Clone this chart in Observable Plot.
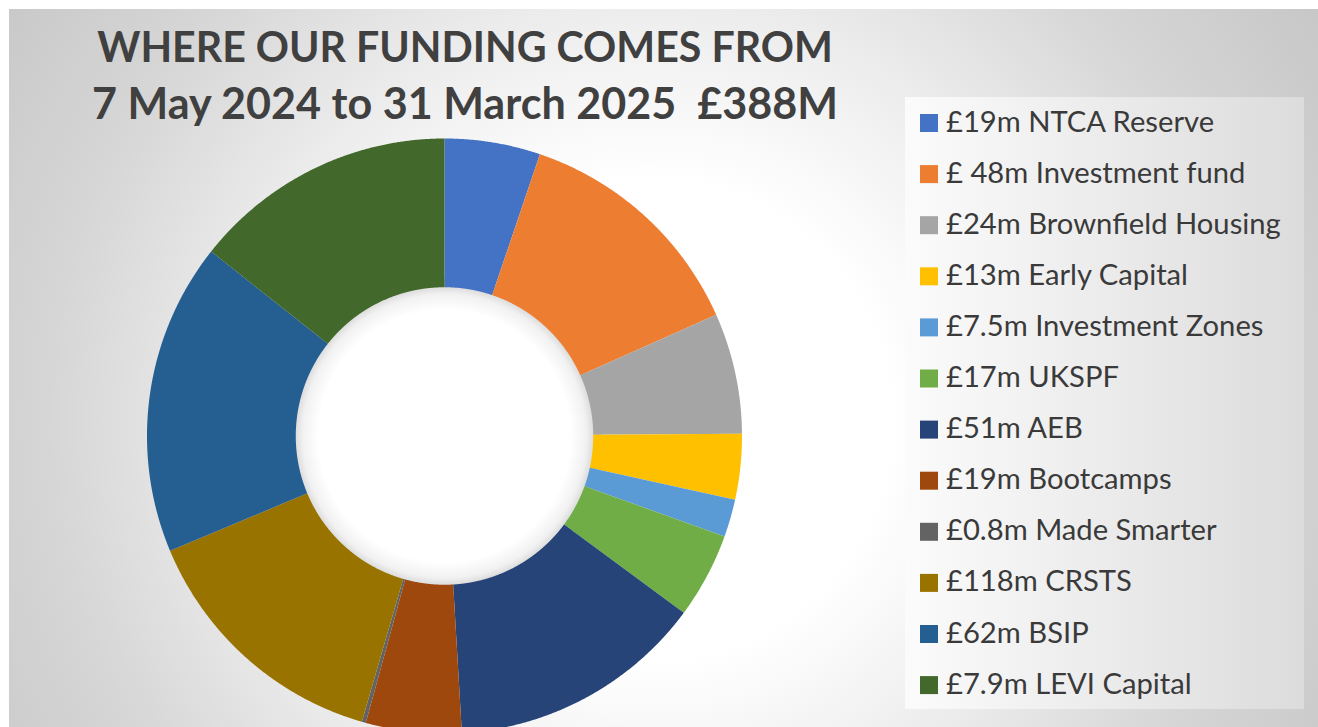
<!DOCTYPE html>
<html><head><meta charset="utf-8">
<script src="https://cdn.jsdelivr.net/npm/d3@7"></script>
<script src="https://cdn.jsdelivr.net/npm/@observablehq/plot@0.6"></script>
<style>
html,body{margin:0;padding:0;background:#fff;}
#wrap{position:relative;width:1318px;height:727px;overflow:hidden;background:#fff;}
#area{position:absolute;left:9px;top:9px;width:1309px;height:718px;
  background:radial-gradient(circle at 641px 411px,#ffffff 0px,#ffffff 240px,#ececec 420px,#d6d6d6 600px,#c6c6c6 800px);}
#legendbox{position:absolute;left:905px;top:97px;width:399px;height:612px;background:linear-gradient(to right,#fbfbfb,#dcdcdc);}
#plot{position:absolute;left:0;top:0;}
#plot svg{background:none !important;}
#overlay{position:absolute;left:0;top:0;}
</style>
</head><body>
<div id="wrap"><div id="area"></div><div id="legendbox"></div><div id="plot"></div><svg id="overlay" width="1318" height="727"></svg></div>
<script>
// ---- data ----
const titleLines = ["WHERE OUR FUNDING COMES FROM", "7 May 2024 to 31 March 2025  £388M"];
const labels = ["£19m NTCA Reserve","£ 48m Investment fund","£24m Brownfield Housing","£13m Early Capital","£7.5m Investment Zones","£17m UKSPF","£51m AEB","£19m Bootcamps","£0.8m Made Smarter","£118m CRSTS","£62m BSIP","£7.9m LEVI Capital"];
// slice sizes as drawn in the picture (£m)
const values = [19, 48, 24, 13, 7.5, 17, 51, 19, 0.8, 52, 62, 52.5];
const colors = ["#4472C4","#ED7D31","#A5A5A5","#FFC000","#5B9BD5","#70AD47","#264478","#9E480E","#636363","#997300","#255E91","#43682B"];

// ---- geometry ----
const INNER = 0.5;
const rows = labels.map((label, i) => ({label, value: values[i], color: colors[i]}));
const arcs = d3.pie().sort(null).value(d => d.value)(rows);
const pts = [];
for (const a of arcs) {
  const a0 = a.startAngle, a1 = a.endAngle;
  const n = Math.max(2, Math.ceil((a1 - a0) / 0.004));
  for (let i = 0; i <= n; i++) { const t = a0 + (a1 - a0) * i / n; pts.push({key: a.data.label, x: Math.sin(t), y: Math.cos(t)}); }
  for (let i = n; i >= 0; i--) { const t = a0 + (a1 - a0) * i / n; pts.push({key: a.data.label, x: INNER * Math.sin(t), y: INNER * Math.cos(t)}); }
}
function circle(r) { const c = []; for (let i = 0; i < 360; i++) { const t = i * Math.PI / 180; c.push({x: r * Math.sin(t), y: r * Math.cos(t)}); } return c; }

const plot = Plot.plot({
  width: 1318, height: 727, margin: 0,
  x: {domain: [-1, 1], range: [146.5, 741.5], axis: null},
  y: {domain: [-1, 1], range: [733, 138], axis: null},
  color: {domain: labels, range: colors},
  marks: [
    Plot.line(circle(1.02), {x: "x", y: "y", fill: "#c8c8c8", fillOpacity: 0.55, stroke: "none", curve: "linear-closed", ariaLabel: "shadow"}),
    Plot.line(circle(0.53), {x: "x", y: "y", fill: "url(#holeGrad)", stroke: "none", curve: "linear-closed"}),
    Plot.line(pts, {x: "x", y: "y", z: "key", fill: "key", stroke: "none", curve: "linear-closed"})
  ]
});
const svgNS = "http://www.w3.org/2000/svg";
const defs = document.createElementNS(svgNS, "defs");
defs.innerHTML = `<radialGradient id="holeGrad" cx="0.5" cy="0.5" r="0.5">
  <stop offset="0" stop-color="#ffffff"/><stop offset="0.8" stop-color="#ffffff"/>
  <stop offset="0.9" stop-color="#f1f1f1"/><stop offset="0.945" stop-color="#dcdcdc"/><stop offset="1" stop-color="#d0d0d0"/></radialGradient>`;
plot.insertBefore(defs, plot.firstChild);
document.getElementById("plot").appendChild(plot);
const sh = plot.querySelector('g[aria-label="shadow"]');
if (sh) sh.style.filter = "blur(6px)";

// ---- title and legend ----
const ov = d3.select("#overlay");
const tfam = "Lato, 'Open Sans', sans-serif";
const keepSpaces = s => s.replace(/  /g, " \u00a0");
const titleG = ov.append("g").attr("fill", "#404040").attr("font-family", tfam).attr("font-weight", 700).attr("text-anchor", "middle");
const tBase = [62, 119];
const tWidth = [736, 746];
const tText = titleG.selectAll("text").data(titleLines).join("text")
  .attr("x", 465).attr("y", (d, i) => tBase[i]).attr("font-size", 40).text(d => keepSpaces(d));
tText.each(function(d, i) { const w = this.getComputedTextLength(); d3.select(this).attr("font-size", 40 * tWidth[i] / w); });

const lg = ov.append("g");
const item = lg.selectAll("g").data(rows).join("g")
  .attr("transform", (d, i) => `translate(0,${131.5 + i * 51.1})`);
item.append("rect").attr("x", 920).attr("y", -17.5).attr("width", 18).attr("height", 18).attr("fill", d => d.color);
const lt = item.append("text").attr("x", 946).attr("y", 0).attr("fill", "#3a3a3a")
  .attr("font-family", tfam).attr("font-size", 26).text(d => keepSpaces(d.label));
const wb = lt.nodes()[2].getComputedTextLength();
lt.attr("font-size", 26 * 335 / wb);
</script>
</body></html>
